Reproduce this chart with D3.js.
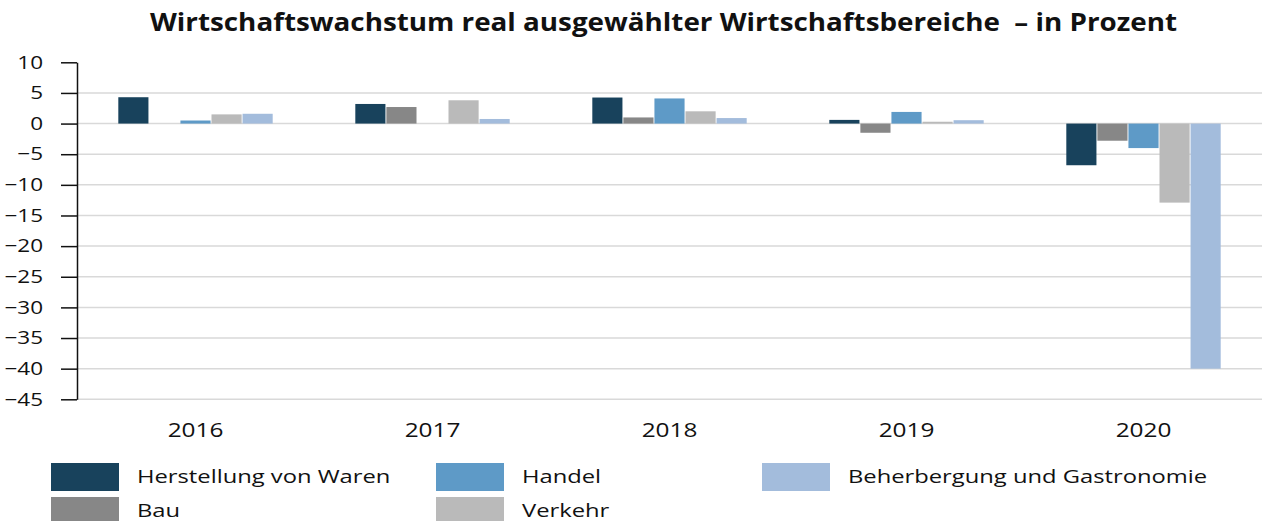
<!DOCTYPE html>
<html>
<head>
<meta charset="utf-8">
<script src="https://cdn.jsdelivr.net/npm/d3@7"></script>
<style>
  body { margin: 0; background: #fff; }
  text { font-family: "Open Sans", sans-serif; fill: #111; }
</style>
</head>
<body>
<svg id="chart"></svg>
<script>
const years = ['2016', '2017', '2018', '2019', '2020'];
const seriesNames = ['Herstellung von Waren', 'Bau', 'Handel', 'Verkehr', 'Beherbergung und Gastronomie'];
const herstellung = [4.3, 3.2, 4.25, 0.6, -6.8];
const bau = [0, 2.7, 1.0, -1.5, -2.8];
const handel = [0.5, 0, 4.1, 1.9, -4.0];
const verkehr = [1.5, 3.8, 2.0, 0.3, -12.9];
const beherbergung = [1.6, 0.75, 0.9, 0.55, -40.0];
const yTicks = [10, 5, 0, -5, -10, -15, -20, -25, -30, -35, -40, -45];
const colors = ['#18425c', '#878787', '#5e9ac7', '#bababa', '#a3bcdc'];

const values = [herstellung, bau, handel, verkehr, beherbergung];
const width = 1264;
const height = 521;
const SX = 1.25; // horizontal stretch of the original text

const svg = d3.select('#chart').attr('width', width).attr('height', height);

const x0 = d3.scaleBand().domain(years).range([77, 1262]);
const x1 = d3.scaleBand().domain(seriesNames).range([0, x0.bandwidth()])
  .paddingInner(0.03).paddingOuter(1.33);
const y = d3.scaleLinear().domain([-45, 10]).range([399.3, 62.3]);

// title
svg.append('text')
  .attr('x', 150).attr('y', 31)
  .attr('textLength', 1027).attr('lengthAdjust', 'spacingAndGlyphs')
  .style('font-weight', 700).style('font-size', '25px')
  .style('white-space', 'pre')
  .text('Wirtschaftswachstum real ausgewählter Wirtschaftsbereiche  – in Prozent');

// gridlines
svg.append('g')
  .selectAll('line')
  .data(yTicks.filter((t) => t < 10))
  .enter()
  .append('line')
  .attr('x1', 77).attr('x2', 1262)
  .attr('y1', (d) => y(d)).attr('y2', (d) => y(d))
  .attr('stroke', '#d9d9d9').attr('stroke-width', 1.5);

// bars
const rows = [];
years.forEach((yr, i) => {
  seriesNames.forEach((s, j) => {
    if (values[j][i]) rows.push({ year: yr, series: s, value: values[j][i], color: colors[j] });
  });
});

svg.append('g')
  .selectAll('rect')
  .data(rows)
  .enter()
  .append('rect')
  .attr('x', (d) => x0(d.year) + x1(d.series))
  .attr('width', x1.bandwidth())
  .attr('y', (d) => y(Math.max(0, d.value)))
  .attr('height', (d) => Math.abs(y(d.value) - y(0)))
  .attr('fill', (d) => d.color);

// y axis
const yAxis = svg.append('g')
  .attr('transform', 'translate(77,0)')
  .call(d3.axisLeft(y).tickValues(yTicks).tickSize(16).tickSizeOuter(0));
yAxis.select('.domain').attr('stroke', '#111').attr('stroke-width', 1.5);
yAxis.selectAll('.tick line').attr('stroke', '#111').attr('stroke-width', 1.5);
yAxis.selectAll('.tick text')
  .attr('x', -34 / SX)
  .attr('transform', 'scale(' + SX + ',1)')
  .style('font-size', '18px')
  .style('font-family', '"Open Sans", sans-serif')
  .attr('fill', '#111');

// year labels
svg.append('g')
  .selectAll('text')
  .data(years)
  .enter()
  .append('text')
  .attr('transform', (d) => 'translate(' + (x0(d) + x0.bandwidth() / 2) + ',437) scale(' + SX + ',1)')
  .attr('text-anchor', 'middle')
  .style('font-size', '19.5px')
  .text((d) => d);

// legend
const legendPos = [
  { x: 51, y: 463 }, { x: 51, y: 497 }, { x: 436, y: 463 }, { x: 436, y: 497 }, { x: 762, y: 463 },
];
const legend = svg.append('g')
  .selectAll('g')
  .data(seriesNames)
  .enter()
  .append('g')
  .attr('transform', (d, i) => 'translate(' + legendPos[i].x + ',' + legendPos[i].y + ')');

legend.append('rect')
  .attr('width', 68).attr('height', 28)
  .attr('fill', (d, i) => colors[i]);

legend.append('text')
  .attr('transform', 'translate(86,20) scale(' + SX + ',1)')
  .style('font-size', '19px')
  .text((d) => d);
</script>
</body>
</html>
